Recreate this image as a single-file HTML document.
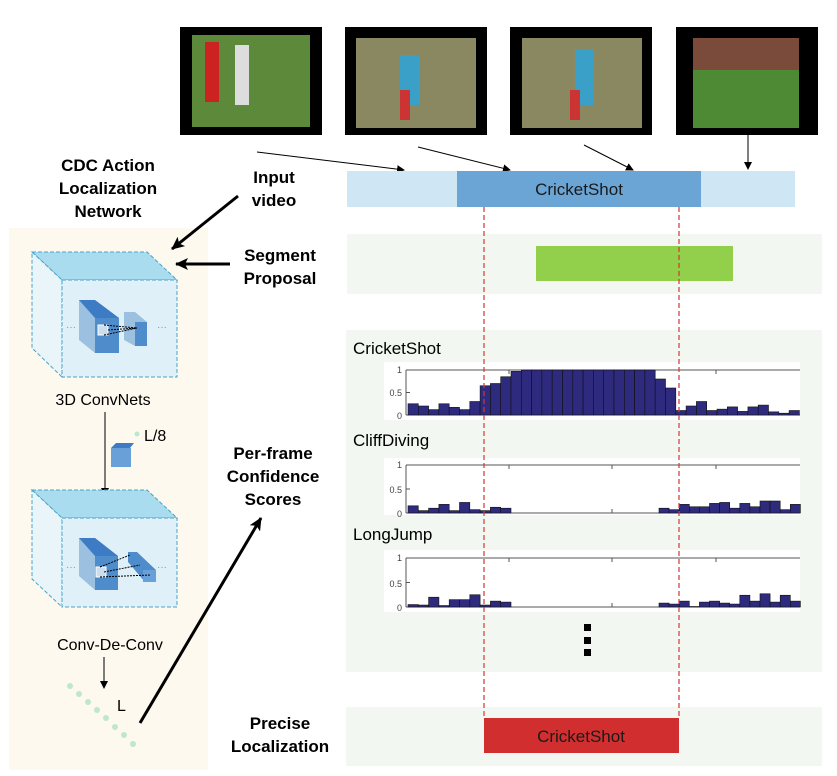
<!DOCTYPE html>
<html><head><meta charset="utf-8"><style>
html,body{margin:0;padding:0;background:#fff;width:837px;height:776px;overflow:hidden}
svg{display:block}
text{font-family:"Liberation Sans","DejaVu Sans",sans-serif}
.b{font-weight:bold;font-size:17px;fill:#000}
</style></head><body>
<svg width="837" height="776" viewBox="0 0 837 776" xmlns="http://www.w3.org/2000/svg">
<defs><marker id="a" markerWidth="8" markerHeight="8" refX="7" refY="4" orient="auto" markerUnits="userSpaceOnUse"><path d="M0,0 L8,4 L0,8 z" fill="#000"/></marker>
<marker id="A" markerWidth="14" markerHeight="14" refX="12" refY="7" orient="auto" markerUnits="userSpaceOnUse"><path d="M0,1 L13,7 L0,13 L3,7 z" fill="#000"/></marker></defs>

<!-- photos -->
<rect x="180" y="27" width="142" height="108" fill="#000"/><rect x="192" y="35" width="118" height="92" fill="#5d8a3a"/><rect x="205" y="42" width="14" height="60" fill="#c22"/><rect x="235" y="45" width="14" height="60" fill="#ddd"/>
<rect x="345" y="27" width="142" height="108" fill="#000"/><rect x="356" y="38" width="120" height="90" fill="#8a8860"/><rect x="400" y="55" width="20" height="50" fill="#3aa0c8"/><rect x="400" y="90" width="10" height="30" fill="#c33"/>
<rect x="510" y="27" width="142" height="108" fill="#000"/><rect x="522" y="38" width="120" height="90" fill="#8a8860"/><rect x="575" y="50" width="18" height="55" fill="#3aa0c8"/><rect x="570" y="90" width="10" height="30" fill="#c33"/>
<rect x="676" y="27" width="142" height="108" fill="#000"/><rect x="693" y="38" width="106" height="90" fill="#4e8a34"/><rect x="693" y="38" width="106" height="32" fill="#7a4a3a"/>

<!-- photo arrows -->
<g stroke="#000" stroke-width="1" marker-end="url(#a)">
<line x1="257" y1="152" x2="404" y2="170"/><line x1="418" y1="147" x2="510" y2="170"/><line x1="584" y1="145" x2="633" y2="170"/><line x1="748" y1="135" x2="748" y2="169"/></g>

<!-- timeline -->
<rect x="347" y="171" width="448" height="36" fill="#cfe6f4"/>
<rect x="457" y="171" width="244" height="36" fill="#6aa5d6"/>
<text x="579" y="195" font-size="17" text-anchor="middle" fill="#1a1a1a">CricketShot</text>

<rect x="347" y="234" width="475" height="60" fill="#f2f8f1"/>
<rect x="536" y="246" width="197" height="35" fill="#92cf4a"/>

<rect x="346" y="330" width="476" height="342" fill="#f2f8f1"/>
<rect x="346" y="707" width="476" height="59" fill="#f2f8f1"/>
<rect x="484" y="718" width="195" height="35" fill="#d12f2f"/>
<text x="581" y="742" font-size="17" text-anchor="middle" fill="#1a1a1a">CricketShot</text>

<!-- charts -->
<text x="353" y="354" font-size="17" fill="#000">CricketShot</text>
<text x="353" y="446" font-size="17" fill="#000">CliffDiving</text>
<text x="353" y="540" font-size="17" fill="#000">LongJump</text>
<rect x="384" y="362" width="416" height="58" fill="#fff"/>
<rect x="384" y="458" width="416" height="57" fill="#fff"/>
<rect x="384" y="550" width="416" height="62" fill="#fff"/>
<g id="charts"></g>
<g font-size="9" fill="#444" text-anchor="end">
<text x="402" y="373">1</text><text x="402" y="396">0.5</text><text x="402" y="419">0</text>
<text x="402" y="468">1</text><text x="402" y="493">0.5</text><text x="402" y="517">0</text>
<text x="402" y="561">1</text><text x="402" y="587">0.5</text><text x="402" y="611">0</text></g>

<rect x="584" y="624" width="7" height="7" fill="#000"/><rect x="584" y="637" width="7" height="7" fill="#000"/><rect x="584" y="649" width="7" height="7" fill="#000"/>

<line x1="484" y1="207" x2="484" y2="718" stroke="#d33" stroke-width="1.2" stroke-dasharray="5,3"/>
<line x1="679" y1="207" x2="679" y2="718" stroke="#d33" stroke-width="1.2" stroke-dasharray="5,3"/>

<!-- left panel -->
<rect x="9" y="228" width="199" height="542" fill="#fdf9ef"/>
<text class="b" x="108" y="171" text-anchor="middle">CDC Action</text>
<text class="b" x="108" y="194" text-anchor="middle">Localization</text>
<text class="b" x="108" y="217" text-anchor="middle">Network</text>
<text class="b" x="274" y="183" text-anchor="middle">Input</text>
<text class="b" x="274" y="206" text-anchor="middle">video</text>
<text class="b" x="280" y="261" text-anchor="middle">Segment</text>
<text class="b" x="280" y="284" text-anchor="middle">Proposal</text>
<text class="b" x="273" y="459" text-anchor="middle">Per-frame</text>
<text class="b" x="273" y="482" text-anchor="middle">Confidence</text>
<text class="b" x="273" y="505" text-anchor="middle">Scores</text>
<text class="b" x="280" y="729" text-anchor="middle">Precise</text>
<text class="b" x="280" y="752" text-anchor="middle">Localization</text>
<g stroke="#000" stroke-width="3" marker-end="url(#A)">
<line x1="238" y1="196" x2="172" y2="249"/><line x1="230" y1="264" x2="176" y2="264"/><line x1="140" y1="723" x2="261" y2="518"/></g>

<!-- cubes -->
<g id="c1">
<polygon points="32,252 147,252 177,280 62,280" fill="#a9dcee" stroke="#4aa3c8" stroke-dasharray="4,2"/>
<polygon points="32,252 62,280 62,377 32,348" fill="#eaf5fa" stroke="#4aa3c8" stroke-dasharray="4,2"/>
<rect x="62" y="280" width="115" height="97" fill="#dff0f9" stroke="#4aa3c8" stroke-dasharray="4,2"/>
</g>
<text x="66" y="330" font-size="10" fill="#6a9bc0">···</text><text x="157" y="330" font-size="10" fill="#6a9bc0">···</text>
<polygon points="79,300 95,300 119,318 119,353 95,353 79,340" fill="#9cc0e0"/><rect x="95" y="318" width="24" height="35" fill="#4f8ccc"/><polygon points="79,300 95,300 119,318 95,318" fill="#3d7bc4"/>
<polygon points="124,312 135,312 147,322 147,346 135,346 124,340" fill="#9cc0e0"/><rect x="135" y="322" width="12" height="24" fill="#4f8ccc"/>
<rect x="98" y="325" width="10" height="10" fill="#cde" stroke="#fff"/>
<path d="M104,325 L137,328 M104,335 L137,328 M108,330 L137,328" stroke="#000" stroke-dasharray="2,1" fill="none"/>
<text x="103" y="405" font-size="16" text-anchor="middle">3D ConvNets</text>
<line x1="105" y1="412" x2="105" y2="495" stroke="#000" marker-end="url(#a)"/>
<polygon points="111,448 130,448 134,443 116,443" fill="#3d7bc4"/><rect x="111" y="448" width="20" height="19" fill="#6aa0d8"/>
<circle cx="137" cy="434" r="2.5" fill="#bfe6cf"/>
<text x="144" y="441" font-size="16">L/8</text>
<polygon points="32,490 147,490 177,518 62,518" fill="#a9dcee" stroke="#4aa3c8" stroke-dasharray="4,2"/>
<polygon points="32,490 62,518 62,607 32,579" fill="#eaf5fa" stroke="#4aa3c8" stroke-dasharray="4,2"/>
<rect x="62" y="518" width="115" height="89" fill="#dff0f9" stroke="#4aa3c8" stroke-dasharray="4,2"/>
<text x="66" y="570" font-size="10" fill="#6a9bc0">···</text><text x="157" y="570" font-size="10" fill="#6a9bc0">···</text>
<polygon points="79,538 95,538 118,556 118,590 95,590 79,576" fill="#9cc0e0"/><rect x="95" y="556" width="23" height="34" fill="#4f8ccc"/><polygon points="79,538 95,538 118,556 95,556" fill="#3d7bc4"/>
<polygon points="128,552 137,552 156,570 156,582 145,582 128,562" fill="#4f8ccc"/><rect x="143" y="570" width="13" height="12" fill="#6aa0d8"/>
<rect x="96" y="567" width="10" height="10" fill="#cde" stroke="#fff"/>
<path d="M100,567 L130,555 M100,577 L150,575 M104,572 L140,565" stroke="#000" stroke-dasharray="2,1" fill="none"/>
<text x="110" y="650" font-size="16" text-anchor="middle">Conv-De-Conv</text>
<line x1="104" y1="657" x2="104" y2="688" stroke="#000" marker-end="url(#a)"/>
<g fill="#bfe6cf"><circle cx="70" cy="686" r="3"/><circle cx="79" cy="694" r="3"/><circle cx="88" cy="702" r="3"/><circle cx="97" cy="710" r="3"/><circle cx="106" cy="718" r="3"/><circle cx="115" cy="727" r="3"/><circle cx="124" cy="735" r="3"/><circle cx="133" cy="744" r="3"/></g>
<text x="117" y="711" font-size="16">L</text>
</svg>
<script>
var g=document.getElementById('charts'),ns="http://www.w3.org/2000/svg";
function el(n,a){var e=document.createElementNS(ns,n);for(var k in a)e.setAttribute(k,a[k]);g.appendChild(e);}
function chart(top,bot,vals,segs){
 var h=bot-top;
 el('line',{x1:406,y1:top,x2:800,y2:top,stroke:'#555'});
 el('line',{x1:406,y1:bot,x2:800,y2:bot,stroke:'#555'});
 el('line',{x1:406,y1:top,x2:406,y2:bot,stroke:'#555'});
 [509,612,716].forEach(function(x){el('line',{x1:x,y1:top,x2:x,y2:top+4,stroke:'#555'});el('line',{x1:x,y1:bot,x2:x,y2:bot-4,stroke:'#555'});});
 el('line',{x1:406,y1:top+h/2,x2:410,y2:top+h/2,stroke:'#555'});
 segs.forEach(function(s){var x=s[0],w=s[1],v=s[2];
  for(var i=0;i<v.length;i++){if(v[i]<=0)continue;var bh=v[i]*h;el('rect',{x:x+i*w,y:bot-bh,width:w,height:bh,fill:'#2e2a7e',stroke:'#111','stroke-width':0.6});}});
}
chart(370,415,[],[[408,10.3,[.25,.2,.12,.25,.17,.12,.3,.65,.7,.85,.97,1,1,1,1,1,1,1,1,1,1,1,1,1,.8,.6,.1,.2,.3,.1,.13,.18,.08,.18,.22,.07,.04,.1]]]);
chart(465,513,[],[[408,10.3,[.15,.05,.1,.18,.05,.22,.07,.05,.12,.1]],[659,10.1,[.1,.07,.18,.13,.13,.2,.22,.1,.2,.13,.25,.25,.07,.18]]]);
chart(558,607,[],[[408,10.3,[.05,.04,.2,.03,.15,.15,.25,.04,.12,.1]],[659,10.1,[.08,.06,.12,.01,.1,.12,.08,.06,.24,.12,.27,.1,.24,.12]]]);
</script>
</body></html>
